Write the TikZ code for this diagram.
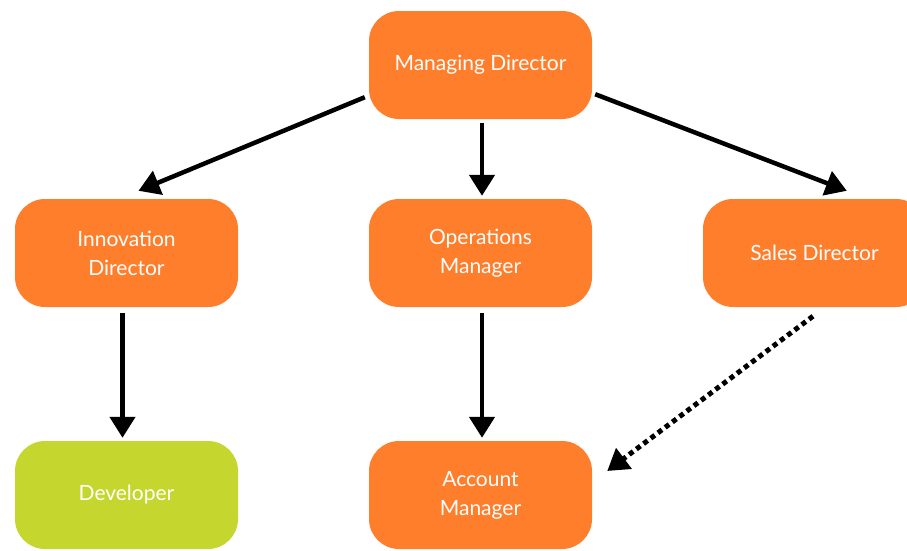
\documentclass[tikz,border=0pt]{standalone}
\usepackage{fontspec}
\setmainfont{Lato}
\usetikzlibrary{arrows.meta}
\definecolor{boxorange}{RGB}{254,126,44}
\definecolor{boxgreen}{RGB}{197,214,46}
\tikzset{
  box/.style={fill=boxorange, draw=none, rounded corners=30pt, minimum width=223pt, minimum height=108pt, inner sep=0pt, text=white, align=center, font=\fontsize{21}{29}\selectfont},
  greenbox/.style={box, fill=boxgreen},
  arr/.style={line width=4.5pt, -{Triangle[length=21pt,width=25pt]}},
  dotarr/.style={line width=5pt, dash pattern=on 5pt off 4pt, -{Triangle[length=21pt,width=25pt]}}
}
\begin{document}
\begin{tikzpicture}[x=1pt,y=-1pt]
\useasboundingbox (0,0) rectangle (907,550);
\node[box] (md) at (480.5,65) {Managing Director};
\node[box] (id) at (126.5,253) {Innovation\\Director};
\node[box] (om) at (480.5,253) {Operations\\Manager};
\node[box] (sd) at (814.5,253) {Sales Director};
\node[greenbox] (dev) at (126.5,495) {Developer};
\node[box] (am) at (480.5,495) {Account\\Manager};
\draw[arr] ([shift={(-4pt,22pt)}]md.south west) -- ([shift={(12pt,8pt)}]id.north);
\draw[arr] ([shift={(1.5pt,-4pt)}]md.south) -- ([shift={(1.5pt,3pt)}]om.north);
\draw[arr] ([shift={(3pt,25pt)}]md.south east) -- ([shift={(144pt,8pt)}]sd.north west);
\draw[arr] ([shift={(-4pt,-6pt)}]id.south) -- ([shift={(-4pt,3pt)}]dev.north);
\draw[arr] ([shift={(1.5pt,-6pt)}]om.south) -- ([shift={(1.5pt,3pt)}]am.north);
\draw[dotarr] ([shift={(-1.5pt,-9pt)}]sd.south) -- ([shift={(15pt,24pt)}]am.east);
\end{tikzpicture}
\end{document}
